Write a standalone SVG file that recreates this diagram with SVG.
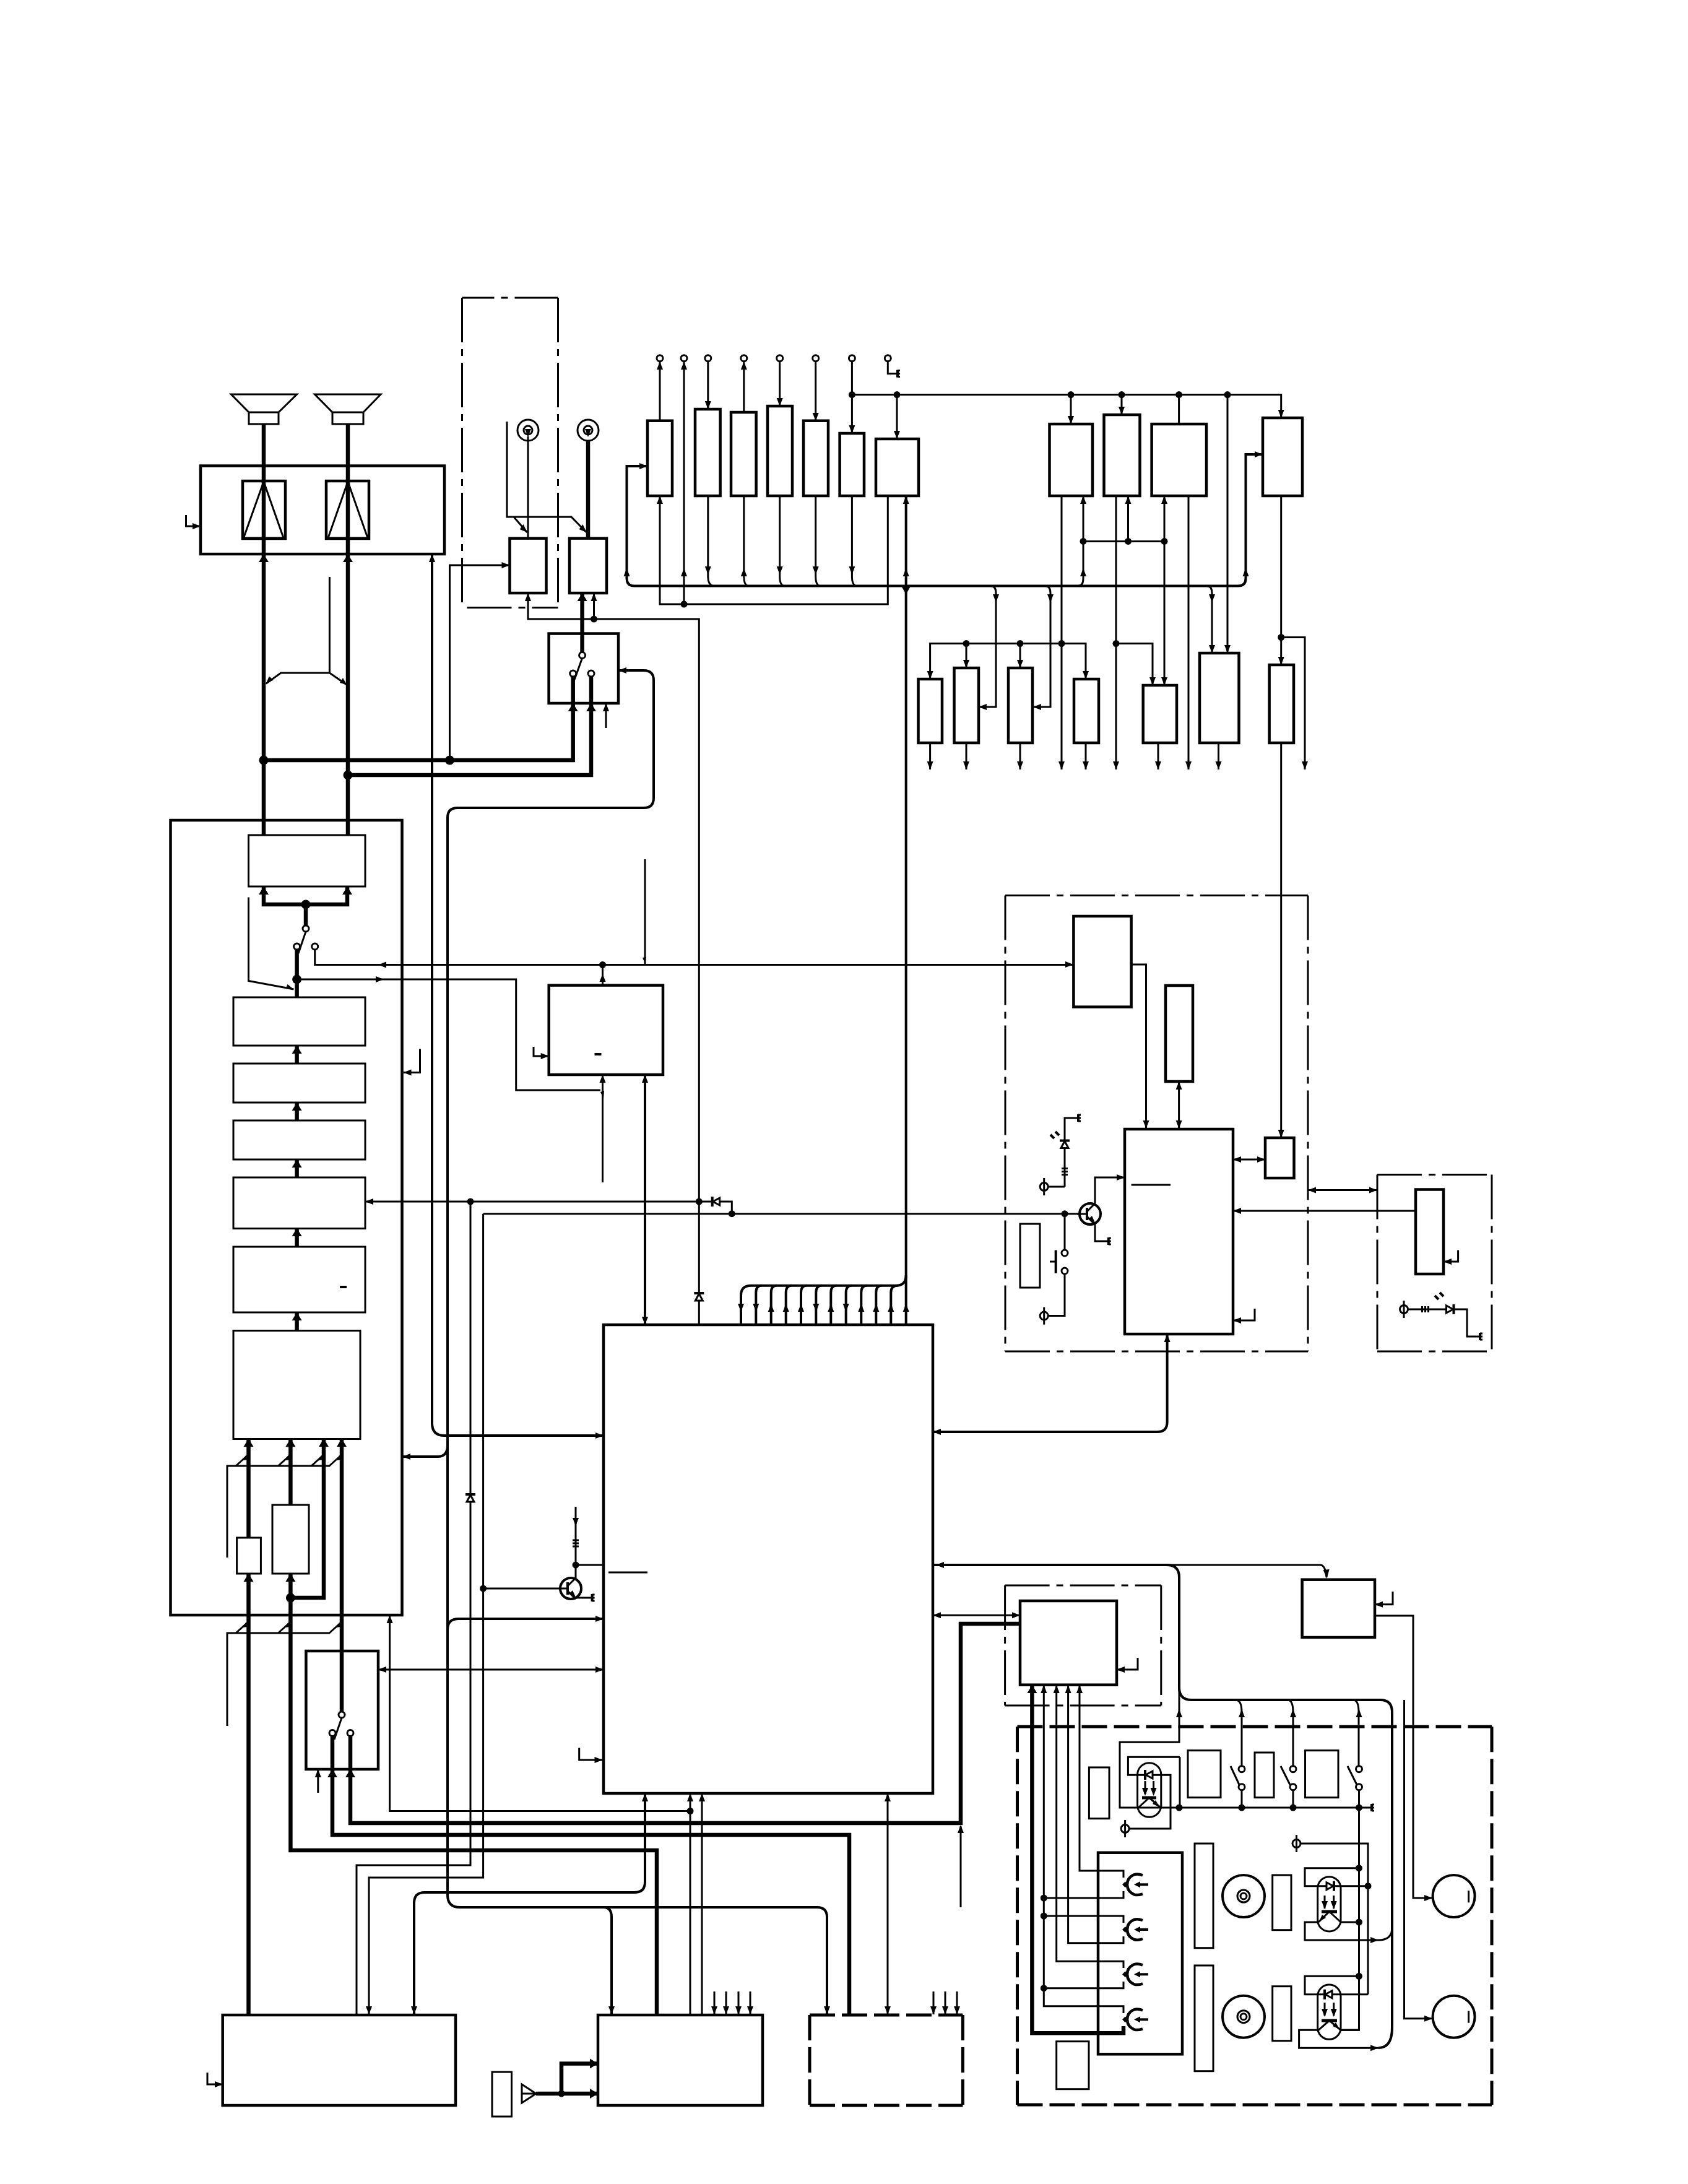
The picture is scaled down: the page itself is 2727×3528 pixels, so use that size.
<svg xmlns="http://www.w3.org/2000/svg" width="2727" height="3528" viewBox="0 0 2727 3528">
<style>
.l{fill:none;stroke:#000;stroke-width:3}
.m{fill:none;stroke:#000;stroke-width:4}
.h{fill:none;stroke:#000;stroke-width:6.5}
.b{fill:none;stroke:#000;stroke-width:4.5}
.t{fill:none;stroke:#000;stroke-width:3}
.c{fill:#fff;stroke:#000;stroke-width:3}
.k{fill:#000;stroke:none}
.dd{fill:none;stroke:#000;stroke-width:3;stroke-dasharray:72 11 11 11}
.da{fill:none;stroke:#000;stroke-width:5;stroke-dasharray:41 11}
</style>
<defs>
<path id="u" class="k" d="M0,0L-5,13H5z"/>
<path id="d" class="k" d="M0,0L-5,-13H5z"/>
<path id="lf" class="k" d="M0,0L13,-5V5z"/>
<path id="r" class="k" d="M0,0L-13,-5V5z"/>
<path id="U" class="k" d="M0,0L-8,13H8z"/>
<path id="R" class="k" d="M0,0L-13,-8V8z"/>
<circle id="o" class="k" r="5.5"/>
<circle id="O" class="k" r="7.5"/>
<circle id="ct" class="c" r="5"/>
<g id="gnd"><path class="m" d="M0,-6V6"/><path class="l" d="M0,-5H4M0,0H4M0,5H4"/></g>
<g id="phi"><circle class="c" r="6.5"/><path class="l" d="M0,-14V14"/></g>
<path id="res" class="l" d="M-5,-5H5M-5,0H5M-5,5H5"/>
<g id="dio"><path class="c" d="M-6,6H6L0,-5z"/><path class="m" d="M-8,-6H8"/></g>
<path id="rays" class="m" d="M-8,-3L-2,3M0,-8L6,-2"/>
<g id="qn"><circle class="m" r="17"/><path class="m" d="M-5,-10V10"/><path class="l" d="M-21,0H-5M-5,-4L8,-17M-5,4L8,17"/><path class="k" d="M8,14L-3,9L3,3z"/></g>
<g id="ant"><circle class="l" r="17"/><circle class="l" r="7"/></g>
<g id="hd"><path class="m" style="stroke-width:4.5" d="M31,-15q-8,-3 -14,-1q-11,5 -11,16q0,11 11,16q6,2 14,-1"/><path class="l" d="M9,-10q-5,10 0,20"/><path class="k" d="M-2,0l5,-5l3,5l-3,5z"/><path class="m" d="M22,0H40"/><path class="k" d="M17,0L27,-5V5z"/></g>
<g id="slash"><path class="l" d="M-20,18L0,0"/><path class="k" d="M-9,9L-4,1L-1,8z"/></g>
</defs>

<!-- wiring between the blocks -->
<g id="connectors">
<!-- supply and switched rails along the top -->
<path class="l" d="M1066,583V680M1066,801V976H1434.3V801M1105,583V976M1143.8,583V661M1201.8,583V666M1259.7,583V656M1317.7,583V680M1376.4,583V700M1434.3,583V603.6H1450"/>
<path class="l" d="M1143.8,801V932q0,12 8,14.6M1201.8,801V932q0,12 6,14.6M1259.7,801V932q0,12 6,14.6M1317.7,801V932q0,12 6,14.6M1376.4,801V932q0,12 6,14.6"/>
<path class="l" d="M1376.4,637.6H2069.7V675M1449,637.6V709M1730,637.6V685M1812,637.6V670M1904.6,637.6V685M1983,637.6V1055"/>
<path class="m" d="M1046,753H1012.5V934q0,12.6 12,12.6H2000q12.5,0 12.5,-12V734H2040"/>
<path class="m" d="M1463.7,801V2060q0,16.7 -16,16.7H1213q-16,0 -16,16V2140"/>
<path class="m" d="M1463.7,2060V2140"/>
<path class="m" d="M1221.3,2140V2088q0,-11.3 9,-11.3M1245.7,2140V2088q0,-11.3 9,-11.3M1269.7,2140V2088q0,-11.3 9,-11.3M1294,2140V2088q0,-11.3 9,-11.3M1318.3,2140V2088q0,-11.3 9,-11.3M1342.3,2140V2088q0,-11.3 9,-11.3M1366.7,2140V2088q0,-11.3 9,-11.3M1391.3,2140V2088q0,-11.3 9,-11.3M1415.3,2140V2088q0,-11.3 9,-11.3M1439.3,2140V2088q0,-11.3 11,-11.3"/>
<path class="l" d="M1715,801V1243M1750,801V934q0,12.6 -8,12.6M1750,874.4H1881M1822.5,801V874.4M1881,801V1107M1803,801V1243M1803,1039.5H1862V1107M1920,801V1243"/>
<path class="l" d="M1601,946.6q8,0 8,12V1142H1581M1689,946.6q8,0 8,12V1142H1669M1950,946.6q8,0 8,12V1055"/>
<path class="l" d="M1502.6,1097V1039.5H1754V1097M1561,1039.5V1079M1648,1039.5V1079M1502.6,1200V1243M1561,1200V1243M1648,1200V1243M1754,1200V1243M1871,1200V1243M1968.5,1200V1243"/>
<path class="l" d="M2069.7,801V1074M2069.7,1029.5H2108V1243M2069.7,1200V1838"/>

<!-- audio outputs and antenna feeds -->
<path class="h" d="M426,685V1349M562,685V1349"/>
<path class="h" d="M426,1228H925.7V1088M562,1252H955V1088"/>
<path class="l" d="M726.5,1228V913H823.5"/>
<path class="l" d="M532.4,932V1087H453.8L429.7,1104.4M532.4,1087L560,1106"/>
<path class="l" d="M853,705V870M819,681V835H923L947.5,860M830,835L851.6,860"/>
<path class="h" d="M950,711V870M940.6,958V1058.5"/>
<path class="l" d="M853,958V1000H1129.3V2140M959.5,1000V958M979,1176V1136"/>
<path class="m" d="M999,1083H1040q16,0 16,16V1289q0,16 -16,16H739q-16,0 -16,16V3061q0,20 20,20H1320q16,0 16,16V3254"/>
<path class="m" d="M975,3081q13,0 13,16V3254M723,2335q0,18 -16,18H650M723,2632q0,-17 18,-17H975"/>
<path class="m" d="M698,895V2299q0,20 20,20H975"/>
<path class="l" d="M590,1941H1182.3V1960.7M760,1941V3013H576V3254M780.6,1960.7V3033H596V3254M780.6,1960.7H1744M780.6,2566H901"/>
<path class="l" d="M1042,1388V1558"/>
<path class="m" d="M1042,1736V2140"/>

<!-- signal chain inside the main module -->
<path class="h" d="M426,1432V1461H561V1432M494,1461V1500M479.6,1534V1611M479.6,1689V1718M479.6,1781V1810M479.6,1873V1902M479.6,1984V2014M479.6,2120V2149.5"/>
<path class="l" d="M508.7,1534V1558.5H1734M480,1582H833.7V1761H970M973.5,1591V1558.5M973.5,1736V1910"/>
<path class="l" d="M401.5,1449.6V1584.5L474.5,1598"/>
<path class="l" d="M678.5,1694.6V1732.5H651.5"/>
<path class="l" d="M862,1691V1706H886.7"/>
<path class="h" d="M401.5,2324V2484M401.5,2542V3254M469.4,2324V2431M469.4,2542V2989H1061V3254M469.4,2581H523V2324M552,2324V2770M537,2805V2964H1372V3254M566,2805V2945H1552V2623H1648"/>
<path class="l" d="M367,2516V2368H533M367,2788V2638H533"/>
<path class="l" d="M611,2697H975M513.8,2896V2858M629.6,2609V2925.5H1115M1115,2897V3254M1134,2897V3254M1552,2950V3081"/>
<path class="m" d="M1042,2897V3040q0,17 -17,17H686q-17,0 -17,17V3254"/>
<path class="l" d="M1434,2897V3254M1154,3217V3254M1173,3217V3254M1193,3217V3254M1212,3217V3254M1508,3217V3254M1527,3217V3254M1546,3217V3254"/>
<path class="h" d="M866,3382H966M907,3382V3333.5H966"/>
<path class="l" d="M335,3348V3367H360M300.5,832V850H324"/>
<path class="l" d="M935.7,2823.5V2843H973.5M930,2434V2551M930,2528H975M930,2581H956.6"/>

<!-- operation panel wiring -->
<path class="l" d="M1827.6,1558H1851.5V1823M1904.6,1747V1823M1992,1873H2044M1992,1956H2287M2113,1922.5H2225"/>
<path class="m" d="M1885.6,2155V2297q0,16 -16,16H1507"/>
<path class="l" d="M1769,1944V1902H1817M1769,1978V2005H1790.8M1720,1960.7V2018M1720,2058V2125.6H1690M1720,1917V1806H1742M1690,1917H1720"/>
<path class="l" d="M2355.6,2019.5V2038H2332M2027,2114V2133H1992M2272,2115H2370V2159H2391"/>

<!-- mechanism wiring -->
<path class="m" d="M1507,2528H1885q20,0 20,20V2726q0,20 20,20H2230q19,0 19,20V3275q0,33 -22,33"/>
<path class="l" d="M1885,2528H2133q8,0 10,20M1507,2609.3H1648M2250,2571V2591.7H2221M1838,2678V2697H1804M2221,2610H2283V3066H2314M2268.5,2746V3260.7H2314"/>
<path class="l" d="M1905,2726V2814.3H1809V2920H2216M1996,2746q10,0 10,20V2857.7M2080,2746q9,0 9,20V2857.7M2186,2746q9,0 9,20V2857.7M2006,2886.7V2920M2089,2886.7V2920M2195.5,2892V3279.3H2166"/>
<path class="l" d="M1906,2838.3H1822.4V2867.3H1891V2954H1825M1906,2838.3V2920"/>
<path class="l" d="M1988,2853L2002,2883M2069,2853L2084,2883M2177,2853L2192,2883"/>
<path class="l" d="M2195.5,3017.7H2108V3046.7H2210M2130,3105H2108V3134H2227M2166,3105H2195.5M2195.5,3192.3H2108V3221.7H2210M2130,3279.3H2098.6V3308.3H2227M2166,3279.3H2195.5M2100,2978H2210V3221.7M2227,3134q22,0 22,-20"/>
<path class="h" d="M1667.4,2721.7V3284.3H1815V3273"/>
<path class="l" d="M1686.3,2721.7V3240.7H1815V3252M1706.7,2721.7V3168.3H1815V3179M1725.6,2721.7V3138.7H1815V3128M1744,2721.7V3022H1815V3033M1815,3055V3066H1686.3M1686.3,3095H1815V3106M1815,3201V3211.7H1686.3"/>

<!-- arrowheads on the wiring -->
<g>
<use href="#u" x="1066" y="584"/><use href="#u" x="1105" y="584"/><use href="#u" x="1201.8" y="584"/>
<use href="#d" x="1143.8" y="661"/><use href="#d" x="1259.7" y="656"/><use href="#d" x="1317.7" y="680"/><use href="#d" x="1376.4" y="700"/><use href="#d" x="1449" y="709"/>
<use href="#d" x="1730" y="685"/><use href="#d" x="1812" y="670"/><use href="#d" x="2069.7" y="675"/><use href="#d" x="1983" y="1055"/>
<use href="#u" x="1066" y="801"/><use href="#u" x="1105" y="918"/><use href="#u" x="1012.5" y="918"/><use href="#u" x="1201.8" y="918"/><use href="#u" x="1463.7" y="918"/><use href="#u" x="1463.7" y="801"/><use href="#u" x="1750" y="918"/><use href="#u" x="2012.5" y="918"/>
<use href="#d" x="1143.8" y="928"/><use href="#d" x="1259.7" y="928"/><use href="#d" x="1317.7" y="928"/><use href="#d" x="1376.4" y="928"/>
<use href="#r" x="1046" y="753"/><use href="#r" x="2040" y="734"/>
<use href="#u" x="1750" y="801"/><use href="#u" x="1822.5" y="801"/><use href="#u" x="1881" y="801"/>
<path class="k" d="M1463.7,960l-8,-14h16z"/>
<use href="#d" x="1609" y="973"/><use href="#d" x="1697" y="973"/><use href="#d" x="1958" y="973"/><use href="#d" x="1958" y="1055"/>
<use href="#lf" x="1581" y="1142"/><use href="#lf" x="1669" y="1142"/>
<use href="#d" x="1502.6" y="1097"/><use href="#d" x="1561" y="1079"/><use href="#d" x="1648" y="1079"/><use href="#d" x="1754" y="1097"/><use href="#d" x="1862" y="1107"/><use href="#d" x="1881" y="1107"/><use href="#d" x="2069.7" y="1074"/>
<use href="#d" x="1502.6" y="1243"/><use href="#d" x="1561" y="1243"/><use href="#d" x="1648" y="1243"/><use href="#d" x="1715" y="1243"/><use href="#d" x="1754" y="1243"/><use href="#d" x="1803" y="1243"/><use href="#d" x="1871" y="1243"/><use href="#d" x="1920" y="1243"/><use href="#d" x="1968.5" y="1243"/><use href="#d" x="2108" y="1243"/>
<use href="#d" x="2069.7" y="1838"/>
<use href="#d" x="1197" y="2119"/><use href="#d" x="1221.3" y="2119"/><use href="#u" x="1245.7" y="2106"/><use href="#u" x="1269.7" y="2106"/><use href="#u" x="1294" y="2106"/><use href="#d" x="1318.3" y="2119"/><use href="#u" x="1342.3" y="2106"/><use href="#d" x="1366.7" y="2119"/><use href="#u" x="1391.3" y="2106"/><use href="#u" x="1415.3" y="2106"/><use href="#u" x="1439.3" y="2106"/><use href="#u" x="1463.7" y="2106"/>
<use href="#U" x="426" y="895"/><use href="#U" x="562" y="895"/><use href="#u" x="698" y="895"/>
<use href="#U" x="925.7" y="1136"/><use href="#U" x="955" y="1136"/><use href="#U" x="940.6" y="958"/>
<use href="#u" x="853" y="958"/><use href="#u" x="959.5" y="958"/><use href="#u" x="979" y="1136"/>
<use href="#r" x="823.5" y="913"/><use href="#lf" x="999" y="1083"/><use href="#r" x="324" y="850"/>
<use href="#d" x="853" y="706"/><use href="#d" x="950" y="706"/>
<path class="k" d="M851.6,860l-12,-5l6,-8zM947.5,860l-12,-5l6,-8zM429.7,1104.4l5,-12l7,6zM560,1106l-11,-3l5,-8z"/>
<use href="#U" x="426" y="1432"/><use href="#U" x="561" y="1432"/>
<use href="#U" x="479.6" y="1689"/><use href="#U" x="479.6" y="1781"/><use href="#U" x="479.6" y="1873"/><use href="#U" x="479.6" y="1984"/><use href="#U" x="479.6" y="2120"/>
<use href="#lf" x="611" y="1558.5"/><use href="#r" x="620" y="1582"/><use href="#lf" x="590" y="1941"/><use href="#lf" x="651.5" y="1732.5"/>
<use href="#r" x="886.7" y="1706"/><use href="#u" x="973.5" y="1573"/><use href="#u" x="973.5" y="1736"/><use href="#u" x="1042" y="1736"/><path class="k" d="M1042,2140l-5,-13h10z"/>
<path class="k" d="M474.5,1598l-13,-1l3,-7zM975,1775l-5,-11l6,-2zM1042,1556l-4,-9l6,-1z"/>
<use href="#r" x="1734" y="1558"/>
<use href="#r" x="975" y="2319"/><use href="#lf" x="650" y="2353"/><use href="#r" x="975" y="2615"/><use href="#r" x="975" y="2697"/><use href="#lf" x="611" y="2697"/>
<use href="#r" x="973.5" y="2843"/><use href="#d" x="930" y="2465"/>
<use href="#U" x="401.5" y="2324"/><use href="#U" x="469.4" y="2324"/><use href="#U" x="523" y="2324"/><use href="#U" x="552" y="2324"/>
<use href="#U" x="401.5" y="2542"/><use href="#U" x="469.4" y="2542"/>
<use href="#u" x="629.6" y="2609"/><use href="#U" x="537" y="2858"/><use href="#U" x="566" y="2858"/><use href="#u" x="513.8" y="2858"/>
<use href="#u" x="1042" y="2897"/><use href="#u" x="1115" y="2897"/><use href="#u" x="1134" y="2897"/><use href="#u" x="1434" y="2897"/>
<use href="#d" x="596" y="3254"/><use href="#d" x="669" y="3254"/><use href="#d" x="988" y="3254"/><use href="#d" x="1336" y="3254"/><use href="#d" x="1434" y="3254"/>
<use href="#d" x="1154" y="3254"/><use href="#d" x="1173" y="3254"/><use href="#d" x="1193" y="3254"/><use href="#d" x="1212" y="3254"/><use href="#d" x="1508" y="3254"/><use href="#d" x="1527" y="3254"/><use href="#d" x="1546" y="3254"/>
<use href="#u" x="1552" y="2948"/>
<use href="#r" x="360" y="3367"/><use href="#R" x="966" y="3382"/><use href="#R" x="966" y="3333.5"/>
<use href="#d" x="1851.5" y="1823"/><use href="#u" x="1904.6" y="1747"/><use href="#d" x="1904.6" y="1823"/>
<use href="#lf" x="1992" y="1873"/><use href="#r" x="2044" y="1873"/><use href="#lf" x="1992" y="1956"/><use href="#lf" x="2113" y="1922.5"/><use href="#r" x="2225" y="1922.5"/>
<use href="#r" x="1817" y="1902"/><use href="#lf" x="2332" y="2038"/><use href="#lf" x="1992" y="2133"/>
<use href="#u" x="1885.6" y="2155"/><use href="#lf" x="1507" y="2313"/>
<use href="#lf" x="1512" y="2528"/>
<path class="k" d="M2143.6,2550l-6,-14l10,-1z"/>
<use href="#lf" x="2221" y="2591.7"/><use href="#lf" x="1804" y="2697"/>
<use href="#lf" x="1507" y="2609.3"/><use href="#r" x="1648" y="2609.3"/>
<use href="#U" x="1667.4" y="2722"/><use href="#u" x="1686.3" y="2722"/><use href="#u" x="1706.7" y="2722"/><use href="#u" x="1725.6" y="2722"/><use href="#u" x="1744" y="2722"/>
<use href="#u" x="1905" y="2761"/><use href="#u" x="2006" y="2761"/><use href="#u" x="2089" y="2761"/><use href="#u" x="2195.5" y="2761"/>
<use href="#r" x="2227" y="3134"/><use href="#r" x="2227" y="3308.3"/><use href="#r" x="2314" y="3066"/><use href="#r" x="2314" y="3260.7"/>
</g>

<!-- junction dots -->
<g>
<use href="#o" x="1376.4" y="637.6"/><use href="#o" x="1449" y="637.6"/><use href="#o" x="1730" y="637.6"/><use href="#o" x="1812" y="637.6"/><use href="#o" x="1904.6" y="637.6"/><use href="#o" x="1983" y="637.6"/>
<use href="#o" x="1105" y="976"/><use href="#o" x="1750" y="874.4"/><use href="#o" x="1822.5" y="874.4"/><use href="#o" x="1881" y="874.4"/>
<use href="#o" x="1561" y="1039.5"/><use href="#o" x="1648" y="1039.5"/><use href="#o" x="1715" y="1039.5"/><use href="#o" x="1803" y="1039.5"/><use href="#o" x="2069.7" y="1029.5"/>
<use href="#O" x="426" y="1228"/><use href="#O" x="562" y="1252"/><use href="#O" x="726.5" y="1228"/><use href="#o" x="959.5" y="1000"/>
<use href="#O" x="494" y="1461"/><use href="#O" x="479.6" y="1582"/><use href="#o" x="973.5" y="1558.5"/><use href="#o" x="760" y="1941"/><use href="#o" x="1129.3" y="1941"/><use href="#o" x="1182.3" y="1960.7"/>
<use href="#o" x="780.6" y="2566"/><use href="#O" x="469.4" y="2581"/><use href="#o" x="930" y="2528"/><use href="#o" x="1115" y="2925.5"/><use href="#o" x="907" y="3382"/>
<use href="#o" x="1720" y="1960.7"/>
<use href="#o" x="1905" y="2920"/><use href="#o" x="2006" y="2920"/><use href="#o" x="2089" y="2920"/><use href="#o" x="2195.5" y="2920"/>
<use href="#o" x="1686.3" y="3066"/><use href="#o" x="1686.3" y="3095"/><use href="#o" x="1686.3" y="3211.7"/>
<use href="#o" x="2195.5" y="3017.7"/><use href="#o" x="2210" y="3046.7"/><use href="#o" x="2195.5" y="3105"/><use href="#o" x="2195.5" y="3192.3"/>
</g>
</g>

<!-- supply terminals -->
<g id="terminals">
<use href="#ct" x="1066" y="578.7"/><use href="#ct" x="1105" y="578.7"/><use href="#ct" x="1143.8" y="578.7"/><use href="#ct" x="1201.8" y="578.7"/><use href="#ct" x="1259.7" y="578.7"/><use href="#ct" x="1317.7" y="578.7"/><use href="#ct" x="1376.4" y="578.7"/><use href="#ct" x="1434.3" y="578.7"/>
<use href="#gnd" x="1450" y="603.6"/>
</g>

<g id="speaker-l"><path class="l" d="M373.4,637H479.6L450,666H402zM402,666H450V685H402z"/></g>
<g id="speaker-r"><path class="l" d="M508.5,637H615L587,666H537zM537,666H587V685H537z"/></g>
<g id="power-amp">
<rect class="b" x="324" y="752.5" width="394" height="142.5"/>
<rect class="b" x="392" y="777" width="69" height="93"/><path class="l" d="M426,778L393.5,869H458z"/>
<rect class="b" x="527" y="777" width="69" height="93"/><path class="l" d="M562,778L530,869H594z"/>
</g>
<g id="ant-l"><use href="#ant" x="853" y="695"/></g>
<g id="ant-r"><use href="#ant" x="950" y="695"/></g>
<g id="tuner-frame"><path class="dd" d="M746.5,481V981.6M901.5,481V981.6"/><path class="dd" style="stroke-dashoffset:20" d="M746.5,481H901.5"/><path class="dd" style="stroke-dashoffset:-8" d="M746.5,981.6H901.5"/></g>
<g id="tuner-a"><rect class="b" x="823.5" y="869.6" width="59" height="88.4"/></g>
<g id="tuner-b"><rect class="b" x="920" y="869.6" width="60" height="88.4"/></g>
<g id="rf-switch"><rect class="b" x="886.6" y="1023.5" width="112.4" height="112.5"/><path class="h" d="M925.7,1088V1136M955,1088V1136" style="stroke-width:5"/><path class="l" d="M940.6,1063L928,1098"/><use href="#ct" x="940.6" y="1058.5"/><use href="#ct" x="925.7" y="1088"/><use href="#ct" x="955" y="1088"/></g>

<g id="reg-1"><rect class="b" x="1046" y="679.7" width="40" height="121.3"/></g>
<g id="reg-2"><rect class="b" x="1123" y="661" width="40.6" height="140"/></g>
<g id="reg-3"><rect class="b" x="1181" y="666" width="40.6" height="135"/></g>
<g id="reg-4"><rect class="b" x="1240" y="656" width="40" height="145"/></g>
<g id="reg-5"><rect class="b" x="1298" y="679.7" width="40" height="121.3"/></g>
<g id="reg-6"><rect class="b" x="1356.6" y="700" width="39.4" height="101"/></g>
<g id="reg-7"><rect class="b" x="1415" y="709" width="69" height="92"/></g>
<g id="reg-8"><rect class="b" x="1695.5" y="685" width="69.5" height="116"/></g>
<g id="reg-9"><rect class="b" x="1783.5" y="670" width="58" height="131"/></g>
<g id="reg-10"><rect class="b" x="1860.6" y="685" width="88.4" height="116"/></g>
<g id="reg-11"><rect class="b" x="2040" y="675" width="64" height="126"/></g>
<g id="drv-a"><rect class="b" x="1483.5" y="1097" width="38.5" height="103"/></g>
<g id="drv-b"><rect class="b" x="1541.5" y="1079" width="39.5" height="121"/></g>
<g id="drv-c"><rect class="b" x="1629" y="1079" width="39" height="121"/></g>
<g id="drv-d"><rect class="b" x="1735" y="1097" width="40" height="103"/></g>
<g id="drv-e"><rect class="b" x="1846.7" y="1107" width="54.3" height="93"/></g>
<g id="drv-f"><rect class="b" x="1938" y="1055" width="63.5" height="145"/></g>
<g id="drv-g"><rect class="b" x="2050.6" y="1074" width="39.4" height="126"/></g>

<!-- main signal module -->
<g id="main-module"><rect class="b" x="275.5" y="1325" width="374" height="1284"/></g>
<g id="out-select"><rect class="t" x="401.5" y="1349" width="188.5" height="83"/></g>
<g id="mute-switch"><path class="l" d="M494,1505L482,1540"/><use href="#ct" x="494" y="1500"/><use href="#ct" x="479.6" y="1529"/><use href="#ct" x="508.7" y="1529"/></g>
<g id="proc-1"><rect class="t" x="377" y="1611" width="213" height="78"/></g>
<g id="proc-2"><rect class="t" x="377" y="1718" width="213" height="63"/></g>
<g id="proc-3"><rect class="t" x="377" y="1810" width="213" height="63"/></g>
<g id="proc-4"><rect class="t" x="377" y="1902" width="213" height="82.5"/></g>
<g id="proc-5"><rect class="t" x="377" y="2014" width="213" height="106"/><path class="m" d="M549,2079H560"/></g>
<g id="proc-6"><rect class="t" x="377" y="2149.5" width="205" height="175"/></g>
<g id="in-small"><rect class="t" x="382.6" y="2484" width="38.8" height="58"/></g>
<g id="in-large"><rect class="t" x="440" y="2431" width="59" height="111"/></g>
<g id="mute-row-a"><use href="#slash" x="401" y="2350"/><use href="#slash" x="469.4" y="2350"/><use href="#slash" x="523" y="2350"/><use href="#slash" x="552" y="2350"/></g>
<g id="mute-row-b"><use href="#slash" x="401" y="2620"/><use href="#slash" x="469.4" y="2620"/><use href="#slash" x="552" y="2620"/></g>
<g id="source-switch"><rect class="b" x="494.4" y="2667" width="116.6" height="191"/><path class="l" d="M552,2775L540,2810"/><use href="#ct" x="552" y="2770"/><use href="#ct" x="537" y="2799.5"/><use href="#ct" x="566" y="2799.5"/></g>
<g id="level-ctrl"><rect class="b" x="886.7" y="1591.6" width="184.3" height="144.4"/><path class="m" d="M960.5,1703H971.5"/></g>

<!-- system controller -->
<g id="controller"><rect class="b" x="975" y="2140" width="532" height="757"/><path class="l" d="M983,2540H1046"/></g>
<g id="reset-q"><use href="#qn" x="922" y="2566"/><use href="#gnd" x="956.6" y="2581"/><use href="#res" x="930" y="2493"/></g>
<g id="diode-a"><use href="#dio" transform="translate(1156.7,1941) rotate(-90)"/></g>
<g id="diode-b"><use href="#dio" x="1129.3" y="2095"/></g>
<g id="diode-c"><use href="#dio" x="760" y="2420"/></g>

<g id="deck-left"><rect class="b" x="359.7" y="3255" width="376.3" height="146"/></g>
<g id="deck-mid"><rect class="b" x="966" y="3255" width="266" height="146"/></g>
<g id="deck-right"><path class="da" d="M1308,3255H1555.4M1308,3401H1555.4M1308,3255V3401M1555.4,3255V3401"/></g>
<g id="ext-rect"><rect class="t" x="795" y="3347" width="31.5" height="72"/></g>
<g id="aerial"><path class="l" d="M843,3367L866,3382L843,3397zM843,3382H866"/></g>

<!-- operation panel -->
<g id="panel-frame"><path class="dd" d="M1624,1446.5H2113M1624,2183H2113M1624,1446.5V2183M2113,1446.5V2183"/></g>
<g id="display"><rect class="b" x="1734.4" y="1480" width="93.2" height="146.6"/></g>
<g id="memory"><rect class="b" x="1883" y="1592" width="44" height="155"/></g>
<g id="panel-mcu"><rect class="b" x="1817" y="1824" width="175" height="331"/><path class="l" d="M1827.6,1914H1891"/></g>
<g id="panel-reg"><rect class="b" x="2044" y="1838" width="46.5" height="65"/></g>
<g id="panel-note"><rect class="t" x="1648" y="1977" width="32" height="103"/></g>
<g id="panel-q"><use href="#qn" x="1761" y="1961"/><use href="#gnd" x="1790.8" y="2005"/></g>
<g id="panel-key"><use href="#ct" x="1720" y="2024"/><use href="#ct" x="1720" y="2053"/><path class="m" d="M1705.7,2019.5V2056.7"/><path class="l" d="M1696,2038H1705.7"/><use href="#phi" x="1686.7" y="2125.6"/></g>
<g id="panel-led"><use href="#res" x="1720" y="1892.5"/><use href="#dio" x="1720" y="1848.5"/><use href="#rays" x="1705" y="1836"/><use href="#gnd" x="1742" y="1806"/><use href="#phi" x="1686.7" y="1917"/></g>
<g id="remote-frame"><path class="dd" d="M2225,1897.5H2410M2225,2183H2410M2225,1897.5V2183M2410,1897.5V2183"/></g>
<g id="remote-rx"><rect class="b" x="2287" y="1921.5" width="45" height="136.5"/></g>
<g id="remote-led"><use href="#phi" x="2268" y="2115"/><use href="#res" transform="translate(2302.5,2115) rotate(90)"/><use href="#dio" transform="translate(2342.5,2115) rotate(90)"/><use href="#rays" x="2326" y="2096"/><use href="#gnd" x="2391" y="2159"/></g>

<!-- mechanism -->
<g id="driver-frame"><path class="dd" d="M1623.6,2561H1875.8M1623.6,2755H1875.8M1623.6,2561V2755M1875.8,2561V2755"/></g>
<g id="motor-driver"><rect class="b" x="1648" y="2586" width="156" height="135.7"/></g>
<g id="servo"><rect class="b" x="2103.6" y="2551.7" width="117.4" height="93.3"/></g>
<g id="mech-frame"><path class="da" d="M1643.5,2789.3H2410M1643.5,3400H2410M1643.5,2789.3V3400M2410,2789.3V3400"/></g>
<g id="mech-note-a"><rect class="t" x="1759.4" y="2855" width="32.6" height="82.7"/></g>
<g id="mech-note-b"><rect class="t" x="1919" y="2827.7" width="53" height="76"/></g>
<g id="mech-note-c"><rect class="t" x="2027" y="2831" width="31" height="72.7"/></g>
<g id="mech-note-d"><rect class="t" x="2108.5" y="2827.7" width="53.5" height="76"/></g>
<g id="mech-note-e"><rect class="t" x="1930" y="2978" width="30" height="168.7"/></g>
<g id="mech-note-f"><rect class="t" x="1930" y="3175" width="30" height="170.7"/></g>
<g id="mech-note-g"><rect class="t" x="2055.7" y="3029" width="30.3" height="88.7"/></g>
<g id="mech-note-h"><rect class="t" x="2055.7" y="3208.7" width="30.3" height="88"/></g>
<g id="mech-note-i"><rect class="t" x="1706.7" y="3297.7" width="52.3" height="77"/></g>
<g id="deck-switches"><use href="#ct" x="2006" y="2857.7"/><use href="#ct" x="2006" y="2886.7"/><use href="#ct" x="2089" y="2857.7"/><use href="#ct" x="2089" y="2886.7"/><use href="#ct" x="2195.5" y="2857.7"/><use href="#ct" x="2195.5" y="2886.7"/><use href="#gnd" x="2216" y="2920"/></g>
<g id="sensor-1"><rect class="l" x="1837.6" y="2847.7" width="38.2" height="87.6" rx="19"/><use href="#dio" transform="translate(1856,2867) rotate(-90)"/><path class="l" d="M1850,2877V2898M1863.6,2877V2898M1856.6,2904L1839,2920M1856.6,2904L1875,2920"/><use href="#d" x="1850" y="2901"/><use href="#d" x="1863.6" y="2901"/><path class="m" d="M1845,2904H1868" style="stroke-width:5"/><path class="k" d="M1873,2919l-11,-5l5,-6z"/><use href="#phi" x="1817.6" y="2954"/></g>
<g id="sensor-2"><rect class="l" x="2128.7" y="3031.7" width="37.3" height="88.3" rx="18.6"/><use href="#dio" transform="translate(2149,3046.7) rotate(90)"/><path class="l" d="M2140,3062V3083M2154.7,3062V3083M2147.5,3088L2130,3105M2147.5,3088L2166,3105"/><use href="#d" x="2140" y="3084"/><use href="#d" x="2154.7" y="3084"/><path class="m" d="M2135,3088H2160" style="stroke-width:5"/><path class="k" d="M2131,3104l5,-11l6,5z"/><use href="#phi" x="2094.5" y="2978"/></g>
<g id="sensor-3"><rect class="l" x="2128.7" y="3206" width="37.3" height="88.3" rx="18.6"/><use href="#dio" transform="translate(2146,3221.7) rotate(-90)"/><path class="l" d="M2140,3235V3256M2154.7,3235V3256M2147.5,3264L2130,3279.3M2147.5,3264L2166,3279.3"/><use href="#d" x="2140" y="3258"/><use href="#d" x="2154.7" y="3258"/><path class="m" d="M2135,3264H2160" style="stroke-width:5"/><path class="k" d="M2164,3278l-11,-5l5,-6z"/></g>
<g id="head-block"><rect class="b" x="1774" y="2992.7" width="136" height="325.6"/><use href="#hd" x="1815" y="3044.3"/><use href="#hd" x="1815" y="3117"/><use href="#hd" x="1815" y="3189.3"/><use href="#hd" x="1815" y="3262.3"/></g>
<g id="reel-a"><circle class="m" cx="2009" cy="3063" r="34"/><circle class="l" cx="2009" cy="3063" r="10"/><circle class="l" cx="2009" cy="3063" r="5"/></g>
<g id="reel-b"><circle class="m" cx="2009" cy="3257.7" r="34"/><circle class="l" cx="2009" cy="3257.7" r="10"/><circle class="l" cx="2009" cy="3257.7" r="5"/></g>
<g id="motor-a"><circle class="m" cx="2348.6" cy="3063" r="34"/><path class="l" d="M2372.6,3054V3073.3"/></g>
<g id="motor-b"><circle class="m" cx="2348.6" cy="3257.7" r="34"/><path class="l" d="M2372.6,3248.3V3267.7"/></g>
</svg>
